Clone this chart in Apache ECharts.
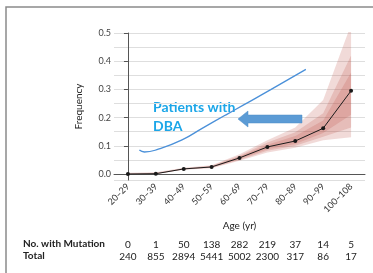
<!DOCTYPE html>
<html>
<head>
<meta charset="utf-8">
<script src="https://cdn.jsdelivr.net/npm/echarts@6/dist/echarts.min.js"></script>
<style>
  html, body { margin: 0; padding: 0; background: #fff; }
  #chart { width: 373px; height: 273px; }
</style>
</head>
<body>
<div id="chart"></div>
<script>
var ageGroups = ['20–29', '30–39', '40–49', '50–59', '60–69', '70–79', '80–89', '90–99', '100–108'];
var frequency = [0.0, 0.001, 0.018, 0.025, 0.057, 0.096, 0.117, 0.162, 0.295];

// credible bands (outer = widest)
var outerLo = [0.0, 0.0, 0.015, 0.020, 0.047, 0.076, 0.093, 0.120, 0.130];
var outerHi = [0.004, 0.006, 0.022, 0.031, 0.070, 0.120, 0.165, 0.262, 0.530];
var midLo   = [0.0, 0.0, 0.016, 0.022, 0.050, 0.082, 0.100, 0.132, 0.165];
var midHi   = [0.002, 0.004, 0.020, 0.029, 0.065, 0.112, 0.148, 0.215, 0.420];
var innerLo = [0.0, 0.0, 0.017, 0.023, 0.053, 0.088, 0.106, 0.145, 0.210];
var innerHi = [0.001, 0.002, 0.019, 0.027, 0.062, 0.104, 0.135, 0.190, 0.360];

// DBA curve: [position on age axis, frequency]
var dbaCurve = [
  [0.41, 0.085], [0.59, 0.078], [1.09, 0.088], [1.94, 0.121], [2.66, 0.162],
  [3.50, 0.209], [4.15, 0.245], [5.12, 0.299], [6.38, 0.371]
];

var noWithMutation = [0, 1, 50, 138, 282, 219, 37, 14, 5];
var totals = [240, 855, 2894, 5441, 5002, 2300, 317, 86, 17];

var font = 'Lato';
var chart = echarts.init(document.getElementById('chart'));

function band(lo, hi, name, color) {
  var diff = hi.map(function (v, i) { return +(v - lo[i]).toFixed(4); });
  return [{
    type: 'line', stack: name, data: lo, symbol: 'none', silent: true,
    lineStyle: { opacity: 0 }
  }, {
    type: 'line', stack: name, data: diff, symbol: 'none', silent: true,
    lineStyle: { opacity: 0 },
    areaStyle: { color: color, opacity: 1 }
  }];
}

var bandColor = 'rgba(188,80,70,0.21)';

chart.setOption({
  animation: false,
  textStyle: { fontFamily: font },
  grid: { left: 114, right: 8, top: 33, bottom: 93 },
  xAxis: [{
    type: 'category',
    data: ageGroups,
    boundaryGap: true,
    name: 'Age (yr)',
    nameLocation: 'middle',
    nameGap: 34,
    nameTextStyle: { fontSize: 10, color: '#222', fontFamily: font },
    axisLine: { lineStyle: { color: '#555', width: 1 } },
    axisTick: { alignWithLabel: true, length: 4, lineStyle: { color: '#555' } },
    axisLabel: { rotate: 45, fontSize: 9, color: '#333', margin: 5, interval: 0 }
  }, {
    type: 'value', min: -0.5, max: 8.5, show: false
  }, {
    type: 'category', data: noWithMutation, position: 'bottom', offset: 60,
    axisLine: { show: false }, axisTick: { show: false },
    axisLabel: { fontSize: 10, color: '#222', margin: 0, interval: 0 }
  }, {
    type: 'category', data: totals, position: 'bottom', offset: 72,
    axisLine: { show: false }, axisTick: { show: false },
    axisLabel: { fontSize: 10, color: '#222', margin: 0, interval: 0 }
  }],
  yAxis: [{
    type: 'value', min: -0.0213, max: 0.5, splitNumber: 5,
    name: 'Frequency', nameLocation: 'middle', nameGap: 30, nameRotate: 90,
    nameTextStyle: { fontSize: 10, color: '#222', fontFamily: font },
    axisLine: { show: true, lineStyle: { color: '#555', width: 1 } },
    axisTick: { show: true, length: 4, lineStyle: { color: '#555' } },
    axisLabel: { fontSize: 9, color: '#444', margin: 3, showMinLabel: false,
      formatter: function (v) { return v.toFixed(1); } },
    splitLine: { show: false }
  }, {
    type: 'value', min: -0.0213, max: 0.5, splitNumber: 10,
    axisLine: { show: false }, axisTick: { show: false }, axisLabel: { show: false },
    splitLine: { show: true, lineStyle: { color: '#dedede', width: 1 } }
  }],
  graphic: [{
    type: 'rect', shape: { x: 6, y: 7, width: 420, height: 320 },
    style: { fill: 'none', stroke: '#8a8a8a', lineWidth: 1.5 }, silent: true
  }, {
    type: 'polygon',
    shape: { points: [[238, 119], [248, 111], [248, 115], [302, 115], [302, 123], [248, 123], [248, 127]] },
    style: { fill: '#5b9bd5', stroke: '#4f8cc7', lineWidth: 0.5 }, z: 10
  }, {
    type: 'text', left: 153, top: 98,
    style: { text: 'Patients with\nDBA', fill: '#1ba6e8', font: 'bold 14px ' + font, lineHeight: 19 }
  }, {
    type: 'text', left: 23, top: 239,
    style: { text: 'No. with Mutation', fill: '#222', font: 'bold 10px ' + font }
  }, {
    type: 'text', left: 23, top: 251,
    style: { text: 'Total', fill: '#222', font: 'bold 10px ' + font }
  }],
  series: [].concat(
    band(outerLo, outerHi, 'outer', bandColor),
    band(midLo, midHi, 'mid', bandColor),
    band(innerLo, innerHi, 'inner', bandColor),
    [{
      type: 'line', data: frequency, symbol: 'circle', symbolSize: 4,
      itemStyle: { color: '#1a1a1a' }, lineStyle: { color: '#1a1a1a', width: 1 }, z: 5
    }, {
      type: 'line', xAxisIndex: 1, data: dbaCurve, smooth: true, symbol: 'none',
      lineStyle: { color: '#4a90d9', width: 1.3 }, z: 4
    }]
  )
});
</script>
</body>
</html>
